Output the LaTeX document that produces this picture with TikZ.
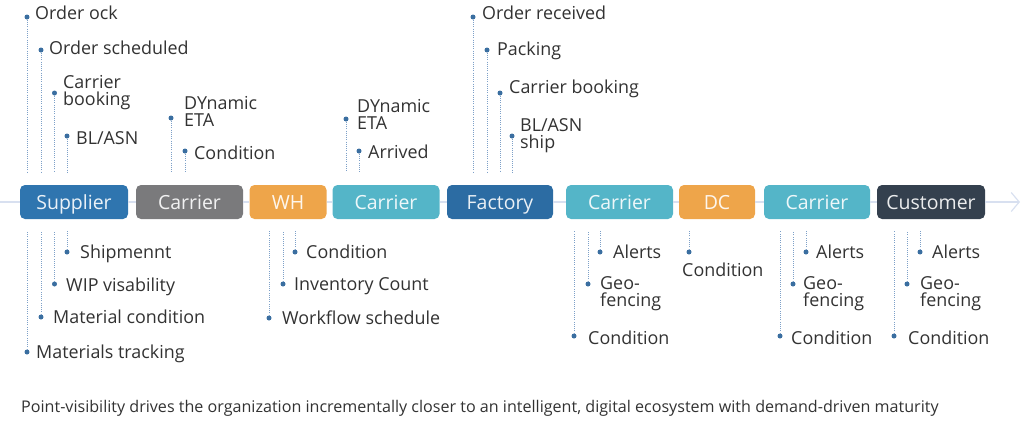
\documentclass[tikz,border=0pt]{standalone}
\usepackage{fontspec}
\setmainfont{Open Sans}
\usetikzlibrary{arrows.meta, positioning}
\definecolor{supblue}{RGB}{47,117,175}
\definecolor{facblue}{RGB}{44,108,163}
\definecolor{cargray}{RGB}{122,122,124}
\definecolor{whorange}{RGB}{238,165,74}
\definecolor{carteal}{RGB}{84,181,200}
\definecolor{custslate}{RGB}{52,64,78}
\definecolor{linecol}{RGB}{216,224,240}
\definecolor{dotblue}{RGB}{58,110,160}
\definecolor{dotcol}{RGB}{125,160,200}
\definecolor{txtgray}{RGB}{50,50,50}

\begin{document}
\begin{tikzpicture}[x=1pt, y=-1pt,
            box/.style={rounded corners=5pt, minimum height=34pt, inner sep=0pt, text height=14pt, text depth=0pt, text=white, text opacity=0.9, font=\fontsize{19.5}{19.5}\selectfont},
            arr/.style={line width=1.2pt, linecol},
            dot/.style={circle, fill=dotblue, inner sep=0pt, minimum size=5pt},
            lbl/.style={anchor=west, inner sep=0pt, text height=12.5pt, text depth=0pt, text=txtgray, font=\fontsize{17.9}{17.9}\selectfont},
            lbl2/.style={anchor=west, inner sep=0pt, align=left, text=txtgray, font=\fontsize{17.9}{17}\selectfont},
            tick/.style={dotcol, line width=0.8pt, dash pattern=on 0.8pt off 1.4pt},
            upline/.style={tick, shorten >=13pt},
            downline/.style={tick, shorten >=12pt}
        ]
            \useasboundingbox (0,0) rectangle (1024,426);

            % stages
            \node[box, fill=supblue, minimum width=108pt] (sup) at (74,202) {Supplier};
            \node[box, fill=cargray, minimum width=107pt] (car1) at (189.5,202) {Carrier};
            \node[box, fill=whorange, minimum width=77pt] (wh) at (288,202) {WH};
            \node[box, fill=carteal, minimum width=107pt] (car2) at (386,202) {Carrier};
            \node[box, fill=facblue, minimum width=106pt] (fac) at (500,202) {Factory};
            \node[box, fill=carteal, minimum width=107pt] (car3) at (619.5,202) {Carrier};
            \node[box, fill=whorange, minimum width=76pt] (dc) at (717,202) {DC};
            \node[box, fill=carteal, minimum width=106pt] (car4) at (817,202) {Carrier};
            \node[box, fill=custslate, minimum width=108pt] (cus) at (931,202) {Customer};

            \coordinate (start) at (0,202);
            \coordinate (stop) at (1020,202);
            \draw[arr] (start) -- (sup);
            \draw[arr] (sup) -- (car1);
            \draw[arr] (car1) -- (wh);
            \draw[arr] (wh) -- (car2);
            \draw[arr] (car2) -- (fac);
            \draw[arr] (fac) -- (car3);
            \draw[arr] (car3) -- (dc);
            \draw[arr] (dc) -- (car4);
            \draw[arr] (car4) -- (cus);
            \draw[arr, -{Straight Barb[length=8pt, width=19pt]}] (cus) -- (stop);

            % supplier
            \node[dot] (s1) at (27,17) {};
            \node[lbl] (s1t) at (35,13) {Order ock};
            \node[dot] (s2) at (41,50) {};
            \node[lbl] (s2t) at (49,48) {Order scheduled};
            \node[dot] (s3) at (54.5,93) {};
            \node[lbl2] (s3t) at (63,92.5) {Carrier\\booking};
            \node[dot] (s4) at (67,136) {};
            \node[lbl] (s4t) at (76,138) {BL/ASN};
            \node[dot] (s5) at (67,252) {};
            \node[lbl] (s5t) at (80,252) {Shipmennt};
            \node[dot] (s6) at (54.5,284) {};
            \node[lbl] (s6t) at (66,285) {WIP visability};
            \node[dot] (s7) at (41,317) {};
            \node[lbl] (s7t) at (53,317) {Material condition};
            \node[dot] (s8) at (27,352) {};
            \node[lbl] (s8t) at (36,352) {Materials tracking};

            % carrier
            \node[dot] (c1) at (171,118) {};
            \node[lbl2] (c1t) at (184,111.5) {DYnamic\\ETA};
            \node[dot] (c2) at (185,151) {};
            \node[lbl] (c2t) at (194,153) {Condition};

            % wh
            \node[dot] (w1) at (295,252) {};
            \node[lbl] (w1t) at (306,252) {Condition};
            \node[dot] (w2) at (283,284) {};
            \node[lbl] (w2t) at (294,284) {Inventory Count};
            \node[dot] (w3) at (269,318) {};
            \node[lbl] (w3t) at (282,318) {Workflow schedule};

            % carrier
            \node[dot] (t1) at (346,119) {};
            \node[lbl2] (t1t) at (357,114) {DYnamic\\ETA};
            \node[dot] (t2) at (359,151) {};
            \node[lbl] (t2t) at (368,152) {Arrived};

            % factory
            \node[dot] (f1) at (473,17) {};
            \node[lbl] (f1t) at (482,13) {Order received};
            \node[dot] (f2) at (487,50) {};
            \node[lbl] (f2t) at (497,49) {Packing};
            \node[dot] (f3) at (500,93) {};
            \node[lbl] (f3t) at (509,87) {Carrier booking};
            \node[dot] (f4) at (512,136) {};
            \node[lbl2] (f4t) at (520,135.5) {BL/ASN\\ship};

            % carrier
            \node[dot] (r1) at (600,252) {};
            \node[lbl] (r1t) at (613,252) {Alerts};
            \node[dot] (r2) at (588,284) {};
            \node[lbl2] (r2t) at (600,293.5) {Geo-\\fencing};
            \node[dot] (r3) at (574,336) {};
            \node[lbl] (r3t) at (588,338) {Condition};

            % dc
            \node[dot] (d1) at (689,252) {};
            \node[lbl] (d1t) at (682,270) {Condition};

            % carrier
            \node[dot] (q1) at (806,252) {};
            \node[lbl] (q1t) at (816,252) {Alerts};
            \node[dot] (q2) at (793,284) {};
            \node[lbl2] (q2t) at (803,293.5) {Geo-\\fencing};
            \node[dot] (q3) at (780,336) {};
            \node[lbl] (q3t) at (791,338) {Condition};

            % customer
            \node[dot] (u1) at (920,252) {};
            \node[lbl] (u1t) at (932,252) {Alerts};
            \node[dot] (u2) at (907,284) {};
            \node[lbl2] (u2t) at (920,293.5) {Geo-\\fencing};
            \node[dot] (u3) at (894,336) {};
            \node[lbl] (u3t) at (908,338) {Condition};

            % dotted ticks
            \draw[upline] (s1) -- (s1 |- sup.north);
            \draw[upline] (s2) -- (s2 |- sup.north);
            \draw[upline] (s3) -- (s3 |- sup.north);
            \draw[upline] (s4) -- (s4 |- sup.north);
            \draw[downline] (s5) -- (s5 |- sup.south);
            \draw[downline] (s6) -- (s6 |- sup.south);
            \draw[downline] (s7) -- (s7 |- sup.south);
            \draw[downline] (s8) -- (s8 |- sup.south);
            \draw[upline] (c1) -- (c1 |- car1.north);
            \draw[upline] (c2) -- (c2 |- car1.north);
            \draw[downline] (w1) -- (w1 |- wh.south);
            \draw[downline] (w2) -- (w2 |- wh.south);
            \draw[downline] (w3) -- (w3 |- wh.south);
            \draw[upline] (t1) -- (t1 |- car2.north);
            \draw[upline] (t2) -- (t2 |- car2.north);
            \draw[upline] (f1) -- (f1 |- fac.north);
            \draw[upline] (f2) -- (f2 |- fac.north);
            \draw[upline] (f3) -- (f3 |- fac.north);
            \draw[upline] (f4) -- (f4 |- fac.north);
            \draw[downline] (r1) -- (r1 |- car3.south);
            \draw[downline] (r2) -- (r2 |- car3.south);
            \draw[downline] (r3) -- (r3 |- car3.south);
            \draw[downline] (d1) -- (d1 |- dc.south);
            \draw[downline] (q1) -- (q1 |- car4.south);
            \draw[downline] (q2) -- (q2 |- car4.south);
            \draw[downline] (q3) -- (q3 |- car4.south);
            \draw[downline] (u1) -- (u1 |- cus.south);
            \draw[downline] (u2) -- (u2 |- cus.south);
            \draw[downline] (u3) -- (u3 |- cus.south);

            \node[anchor=west, inner sep=0pt, text=txtgray, font=\fontsize{16.1}{16.1}\selectfont] (cap) at (21,408) {Point-visibility drives the organization incrementally closer to an intelligent, digital ecosystem with demand-driven maturity};
        \end{tikzpicture}
\end{document}
